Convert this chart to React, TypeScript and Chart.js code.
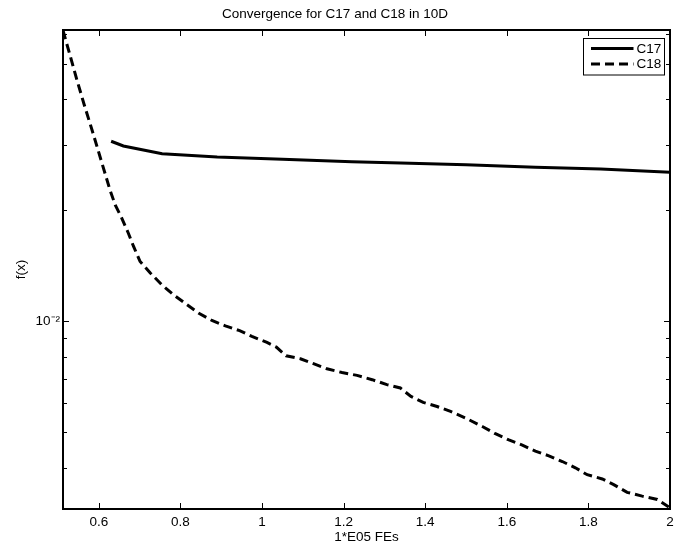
import React, { useEffect, useRef } from "react";
import { Chart, registerables } from "chart.js";

Chart.register(...registerables);

const FONT_FAMILY = '"Liberation Sans", Arial, Helvetica, sans-serif';
const FONT_SIZE = 13.5;

const chartTitle = "Convergence for C17 and C18 in 10D";
const xAxisTitle = "1*E05 FEs";
const yAxisTitle = "f(x)";

const xMin = 0.512;
const xMax = 2;
const yMin = 0.0031;
const yMax = 0.0617;
const xTickValues = [0.6, 0.8, 1, 1.2, 1.4, 1.6, 1.8, 2];

const seriesLabels = ["C17", "C18"];

const c17X = [0.63, 0.66, 0.755, 0.89, 1.05, 1.22, 1.34, 1.5, 1.67, 1.83, 2.0];
const c17Y = [0.0308, 0.0299, 0.0285, 0.0279, 0.02754, 0.0271, 0.0269, 0.0266, 0.0262, 0.0259, 0.0254];

const c18X = [
  0.512, 0.529, 0.546, 0.564, 0.583, 0.605, 0.627, 0.64, 0.656, 0.672, 0.685, 0.701,
  0.726, 0.754, 0.783, 0.816, 0.844, 0.877, 0.91, 0.945, 0.975, 1.012, 1.035, 1.059,
  1.094, 1.126, 1.159, 1.196, 1.233, 1.27, 1.306, 1.339, 1.365, 1.395, 1.429, 1.462,
  1.499, 1.54, 1.572, 1.605, 1.638, 1.67, 1.703, 1.736, 1.768, 1.797, 1.834, 1.862,
  1.895, 1.932, 1.969, 1.997,
];
const c18Y = [
  0.0615, 0.0528, 0.0452, 0.0387, 0.0331, 0.02745, 0.02276, 0.0207, 0.01906, 0.01737, 0.01597, 0.01454,
  0.01353, 0.01258, 0.01181, 0.0111, 0.01054, 0.01006, 0.00973, 0.00944, 0.00911, 0.00877, 0.00852, 0.00807,
  0.00792, 0.00768, 0.00744, 0.00727, 0.00714, 0.00695, 0.00674, 0.0066, 0.00626, 0.00603, 0.00588, 0.0057,
  0.00547, 0.00519, 0.00496, 0.00477, 0.00462, 0.00445, 0.00432, 0.00417, 0.00401, 0.00384, 0.00374, 0.00361,
  0.00344, 0.00336, 0.00329, 0.00314,
];

const toPoints = (xs: number[], ys: number[]) => xs.map((x, i) => ({ x, y: ys[i] }));

const matlabPlugin = {
  id: "matlabBox",
  afterDraw(chart: any) {
    const { ctx, chartArea: a, scales } = chart;
    const xs = scales.x;
    const ys = scales.y;
    ctx.save();
    ctx.strokeStyle = "#000";
    ctx.lineWidth = 1;
    ctx.setLineDash([]);
    // x ticks (inward, bottom and top)
    xTickValues.forEach((v) => {
      const p = Math.round(xs.getPixelForValue(v)) + 0.5;
      ctx.beginPath();
      ctx.moveTo(p, a.bottom);
      ctx.lineTo(p, a.bottom - 6);
      ctx.moveTo(p, a.top);
      ctx.lineTo(p, a.top + 6);
      ctx.stroke();
    });
    // y ticks (log minor/major)
    for (let e = -4; e <= 0; e++) {
      for (let k = 1; k <= 9; k++) {
        const v = k * Math.pow(10, e);
        if (v < ys.min || v > ys.max) continue;
        const p = Math.round(ys.getPixelForValue(v)) + 0.5;
        const len = k === 1 ? 6 : 4;
        ctx.beginPath();
        ctx.moveTo(a.left, p);
        ctx.lineTo(a.left + len, p);
        ctx.moveTo(a.right, p);
        ctx.lineTo(a.right - len, p);
        ctx.stroke();
      }
    }
    // box
    ctx.lineWidth = 2;
    ctx.strokeRect(a.left, a.top, a.right - a.left, a.bottom - a.top);

    // legend
    const bw = 81;
    const bh = 36.5;
    const bx = Math.round(a.right - 6.5 - bw) + 0.5;
    const by = Math.round(a.top + 7.5) + 0.5;
    ctx.fillStyle = "#fff";
    ctx.fillRect(bx, by, bw, bh);
    ctx.lineWidth = 1;
    ctx.strokeRect(bx, by, bw, bh);
    ctx.font = `${FONT_SIZE}px ${FONT_FAMILY}`;
    ctx.textAlign = "left";
    ctx.textBaseline = "middle";
    chart.data.datasets.forEach((ds: any, i: number) => {
      const y = by + 10 + i * 15.6;
      ctx.beginPath();
      ctx.lineWidth = ds.borderWidth;
      ctx.setLineDash(ds.borderDash || []);
      ctx.moveTo(bx + 7.5, y);
      ctx.lineTo(bx + 50, y);
      ctx.stroke();
      ctx.setLineDash([]);
      ctx.fillStyle = "#000";
      ctx.fillText(ds.label, bx + 53, y + 0.5);
    });
    ctx.restore();
  },
};

export default function App() {
  const canvasRef = useRef<HTMLCanvasElement | null>(null);

  useEffect(() => {
    if (!canvasRef.current) return;
    const font = { family: FONT_FAMILY, size: FONT_SIZE, weight: "normal" as const };
    const chart = new Chart(canvasRef.current, {
      type: "line",
      data: {
        datasets: [
          {
            label: seriesLabels[0],
            data: toPoints(c17X, c17Y),
            borderColor: "#000",
            backgroundColor: "#000",
            borderWidth: 3,
            pointRadius: 0,
            tension: 0,
            fill: false,
          },
          {
            label: seriesLabels[1],
            data: toPoints(c18X, c18Y),
            borderColor: "#000",
            backgroundColor: "#000",
            borderWidth: 3,
            borderDash: [9, 5],
            pointRadius: 0,
            tension: 0,
            fill: false,
          },
        ],
      },
      options: {
        animation: false,
        responsive: false,
        devicePixelRatio: 1,
        layout: { padding: { left: 0, right: 13, top: 0, bottom: 0 } },
        plugins: {
          legend: { display: false },
          tooltip: { enabled: false },
          title: {
            display: true,
            text: chartTitle,
            color: "#000",
            font,
            padding: { top: 6.4, bottom: 7.4 },
          },
        },
        scales: {
          x: {
            type: "linear",
            min: xMin,
            max: xMax,
            grid: { display: false, drawTicks: false },
            border: { display: false },
            ticks: {
              stepSize: 0.2,
              includeBounds: false,
              autoSkip: false,
              maxRotation: 0,
              padding: 5,
              color: "#000",
              font,
              callback: (v: any) => String(Math.round(Number(v) * 10) / 10),
            },
            title: {
              display: true,
              text: xAxisTitle,
              color: "#000",
              font,
              padding: { top: 0.5, bottom: 0 },
            },
            afterFit: (s: any) => {
              s.height = 36;
            },
          },
          y: {
            type: "logarithmic",
            min: yMin,
            max: yMax,
            grid: { display: false, drawTicks: false },
            border: { display: false },
            ticks: {
              autoSkip: false,
              padding: 3,
              color: "#000",
              font,
              callback: (v: any) => (Math.abs(Number(v) / 0.01 - 1) < 1e-6 ? "10⁻²" : ""),
            },
            title: {
              display: true,
              text: yAxisTitle,
              color: "#000",
              font,
              padding: { top: 12.9, bottom: 0 },
            },
            afterFit: (s: any) => {
              s.width = 63;
            },
          },
        },
      },
      plugins: [matlabPlugin],
    });
    return () => chart.destroy();
  }, []);

  return (
    <div style={{ position: "fixed", left: 0, top: 0, width: 683, height: 545, background: "#fff" }}>
      <canvas ref={canvasRef} width={683} height={545} style={{ display: "block" }} />
    </div>
  );
}
